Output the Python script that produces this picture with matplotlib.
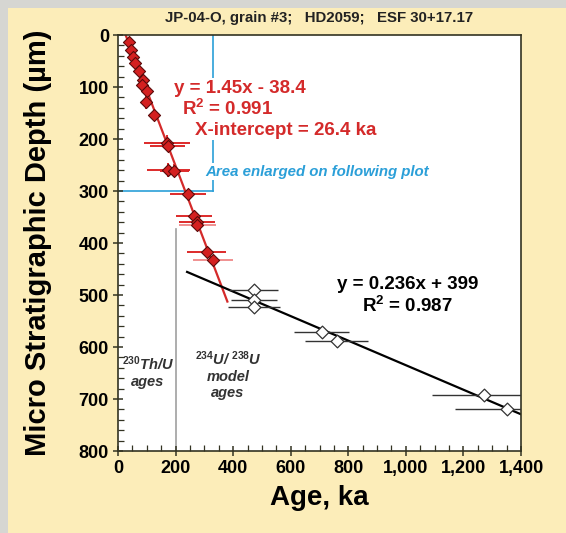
import numpy as np
import matplotlib
matplotlib.use("Agg")
import matplotlib.pyplot as plt
from matplotlib.ticker import MultipleLocator, FuncFormatter
from matplotlib.patches import Rectangle

plt.rcParams['font.family'] = ['Liberation Sans', 'DejaVu Sans']
plt.rcParams['mathtext.fontset'] = 'custom'
plt.rcParams['mathtext.rm'] = 'Liberation Sans:bold'
plt.rcParams['mathtext.bf'] = 'Liberation Sans:bold'
plt.rcParams['mathtext.it'] = 'Liberation Sans:italic:bold'
plt.rcParams['mathtext.default'] = 'bf'

# 230Th/U ages (red diamonds)
th_age = [39, 45, 53, 58, 74, 88, 85, 102, 97, 126, 169, 172, 175, 196, 242, 265, 275, 276, 308, 329]
th_depth = [14, 29, 42, 54, 69, 87, 96, 107, 128, 154, 207, 213, 260, 261, 306, 348, 359, 365, 417, 433]
th_xerr = [6, 6, 7, 7, 8, 9, 9, 10, 10, 12, 80, 60, 74, 50, 62, 62, 62, 65, 67, 70]
th_yerr = [6, 8, 8, 8, 8, 12, 10, 10, 14, 8, 14, 10, 14, 12, 8, 10, 12, 8, 10, 8]
th_pale = [False] * 17 + [True, False, True]

# 234U/238U model ages (white diamonds)
u_age = [472, 472, 472, 707, 760, 1271, 1350]
u_depth = [491, 509, 523, 572, 588, 692, 720]
u_xerr = [85, 80, 90, 97, 110, 180, 180]
u_yerr = [0, 0, 0, 0, 12, 0, 0]

# regression lines
red_slope, red_int, red_x = 1.45, -38.4, (26.4, 380)
blk_slope, blk_int, blk_x = 0.236, 399, (240, 1400)

fig = plt.figure(figsize=(5.66, 5.33), dpi=100)
fig.patch.set_facecolor('#FCEDB9')
W, H = 566, 533
fig.patches.append(Rectangle((0, 0), 8 / W, 1, transform=fig.transFigure,
                             facecolor='#D6D6D2', edgecolor='none', zorder=0))
fig.patches.append(Rectangle((0, 1 - 8 / H), 1, 8 / H, transform=fig.transFigure,
                             facecolor='#D6D6D2', edgecolor='none', zorder=0))

ax = fig.add_axes([118 / W, 1 - 451 / H, 403 / W, 416 / H])
ax.set_facecolor('white')

# boxed area and method divider
ax.plot([330, 330], [0, 300], color='#2B9FD8', lw=1.2, zorder=1)
ax.plot([0, 330], [300, 300], color='#2B9FD8', lw=1.2, zorder=1)
ax.plot([200, 200], [374, 800], color='#A0A0A0', lw=1.2, zorder=1)

# fits
xr = np.array(red_x)
ax.plot(xr, red_slope * xr + red_int, color='#D42A2A', lw=1.6, zorder=2)
xb = np.array(blk_x)
ax.plot(xb, blk_slope * xb + blk_int, color='black', lw=1.6, zorder=2)

# red points
for a, d, xe, ye, pale in zip(th_age, th_depth, th_xerr, th_yerr, th_pale):
    ax.errorbar(a, d, xerr=xe, yerr=ye, fmt='none',
                ecolor='#F09090' if pale else '#DD2A2A', elinewidth=1.4, capsize=0, zorder=3)
ax.scatter(th_age, th_depth, marker='D', s=38, facecolor='#D42020',
           edgecolor='#5A0A0A', linewidth=0.8, zorder=4)

# white points
ax.errorbar(u_age, u_depth, xerr=u_xerr, yerr=u_yerr, fmt='none',
            ecolor='#333333', elinewidth=1.0, capsize=0, zorder=3)
ax.scatter(u_age, u_depth, marker='D', s=42, facecolor='white',
           edgecolor='#333333', linewidth=0.9, zorder=4)

ax.set_xlim(0, 1400)
ax.set_ylim(800, 0)
ax.xaxis.set_major_locator(MultipleLocator(200))
ax.xaxis.set_minor_locator(MultipleLocator(50))
ax.yaxis.set_major_locator(MultipleLocator(100))
ax.yaxis.set_minor_locator(MultipleLocator(20))
ax.xaxis.set_major_formatter(FuncFormatter(lambda v, p: f'{int(v):,}'))
ax.tick_params(which='major', direction='inout', length=7, width=1.1,
               color='#333322', labelsize=13, pad=3)
ax.tick_params(which='minor', direction='in', length=4, width=0.9, color='#333322')
for lab in ax.get_xticklabels() + ax.get_yticklabels():
    lab.set_fontweight('bold')
for s in ax.spines.values():
    s.set_color('#333322')
    s.set_linewidth(1.2)

ax.set_xlabel('Age, ka', fontsize=20, fontweight='bold')
ax.xaxis.set_label_coords(0.5, -0.082)
ax.set_ylabel('Micro Stratigraphic Depth (µm)', fontsize=21, fontweight='bold')
ax.yaxis.set_label_coords(-0.163, 0.5)

fig.text(319 / W, 1 - 18 / H, 'JP-04-O, grain #3;   HD2059;   ESF 30+17.17',
         ha='center', va='center', fontsize=10.8, fontweight='bold', color='#222222')

white_box = dict(facecolor='white', edgecolor='none', pad=1)
red = '#D42A2A'
ax.text(424, 102, 'y = 1.45x - 38.4', color=red, fontsize=13.5, fontweight='bold',
        ha='center', va='center', bbox=white_box, zorder=5)
ax.text(382, 142, 'R$^{2}$ = 0.991', color=red, fontsize=13.5, fontweight='bold',
        ha='center', va='center', bbox=white_box, zorder=5)
ax.text(267, 183, 'X-intercept = 26.4 ka', color=red, fontsize=13.5, fontweight='bold',
        ha='left', va='center', bbox=white_box, zorder=5)
ax.text(305, 263, 'Area enlarged on following plot', color='#2B9FD8', fontsize=10.8,
        fontweight='bold', fontstyle='italic', ha='left', va='center',
        bbox=white_box, zorder=5)

ax.text(1007, 480, 'y = 0.236x + 399', color='black', fontsize=13.5, fontweight='bold',
        ha='center', va='center', zorder=5)
ax.text(1005, 522, 'R$^{2}$ = 0.987', color='black', fontsize=13.5, fontweight='bold',
        ha='center', va='center', zorder=5)

ax.text(104, 648, '$^{230}$Th/U\nages', color='#333333', fontsize=10.5,
        fontweight='bold', fontstyle='italic', ha='center', va='center',
        linespacing=1.2, zorder=5)
ax.text(382, 653, '$^{234}$U/ $^{238}$U\nmodel\nages', color='#333333', fontsize=10.5,
        fontweight='bold', fontstyle='italic', ha='center', va='center',
        linespacing=1.2, zorder=5)

fig.savefig('out.png', dpi=100, facecolor=fig.get_facecolor())
